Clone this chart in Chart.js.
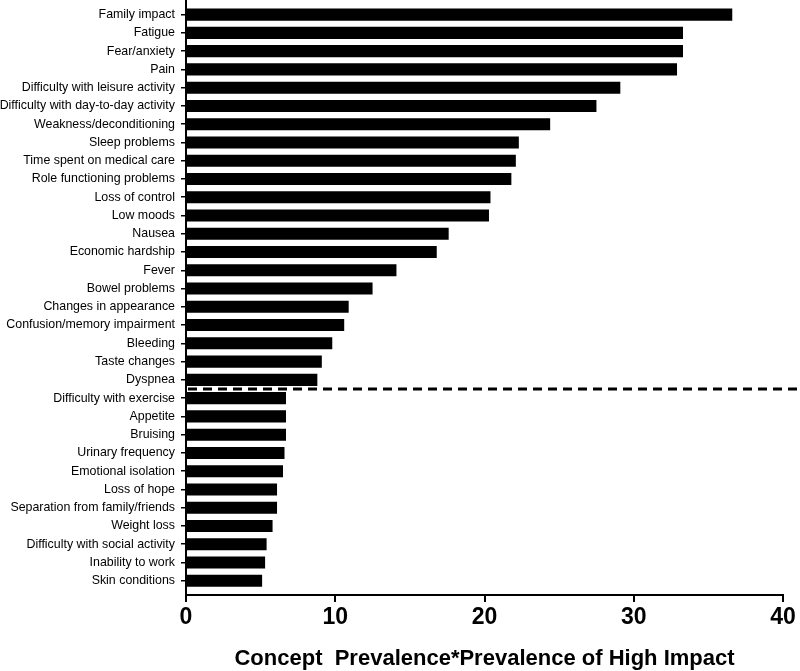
<!DOCTYPE html>
<html>
<head>
<meta charset="utf-8">
<script src="https://cdn.jsdelivr.net/npm/chart.js@4.4.1/dist/chart.umd.min.js"></script>
<style>
  html, body { margin: 0; padding: 0; background: #fff; }
  #wrap { width: 800px; height: 671px; }
</style>
</head>
<body>
<div id="wrap"><canvas id="impactChart"></canvas></div>
<script>
const categories = [
    'Family impact', 'Fatigue', 'Fear/anxiety', 'Pain',
    'Difficulty with leisure activity', 'Difficulty with day-to-day activity',
    'Weakness/deconditioning', 'Sleep problems', 'Time spent on medical care',
    'Role functioning problems', 'Loss of control', 'Low moods', 'Nausea',
    'Economic hardship', 'Fever', 'Bowel problems', 'Changes in appearance',
    'Confusion/memory impairment', 'Bleeding', 'Taste changes', 'Dyspnea',
    'Difficulty with exercise', 'Appetite', 'Bruising', 'Urinary frequency',
    'Emotional isolation', 'Loss of hope', 'Separation from family/friends',
    'Weight loss', 'Difficulty with social activity', 'Inability to work',
    'Skin conditions'
];
const values = [
    36.6, 33.3, 33.3, 32.9, 29.1, 27.5, 24.4, 22.3, 22.1, 21.8, 20.4, 20.3,
    17.6, 16.8, 14.1, 12.5, 10.9, 10.6, 9.8, 9.1, 8.8,
    6.7, 6.7, 6.7, 6.6, 6.5, 6.1, 6.1, 5.8, 5.4, 5.3, 5.1
];
const xTicks = [0, 10, 20, 30, 40];
const cutoffLabel = 'Dyspnea';   // dashed line drawn just below this one

const labelFont = "'Liberation Sans', Arial, sans-serif";

// dashed cut-off line across the plot
const cutoffLine = {
    id: 'cutoffLine',
    afterDatasetsDraw(chart) {
        const y = chart.scales.y.getPixelForValue(categories.indexOf(cutoffLabel) + 0.5);
        const ctx = chart.ctx;
        ctx.save();
        ctx.strokeStyle = '#000';
        ctx.lineWidth = 3;
        ctx.setLineDash([9, 6]);
        ctx.beginPath();
        ctx.moveTo(chart.chartArea.left + 2, y);
        ctx.lineTo(chart.width, y);
        ctx.stroke();
        ctx.restore();
    }
};

new Chart(document.getElementById('impactChart'), {
    type: 'bar',
    data: {
        datasets: [{
            data: values.map((v, i) => ({ x: v, y: i })),
            backgroundColor: '#000',
            borderWidth: 0,
            barPercentage: 0.66,
            categoryPercentage: 1
        }]
    },
    options: {
        indexAxis: 'y',
        responsive: true,
        maintainAspectRatio: false,
        animation: false,
        layout: { padding: { left: 0, right: 17, top: 0, bottom: 0 } },
        plugins: { legend: { display: false }, tooltip: { enabled: false } },
        scales: {
            y: {
                type: 'linear',
                reverse: true,
                offset: false,
                min: -0.8,
                max: 31.78,
                afterBuildTicks: (s) => { s.ticks = categories.map((_, i) => ({ value: i })); },
                afterFit: (s) => { s.width = 186; s.paddingTop = 0; s.paddingBottom = 0; },
                ticks: {
                    autoSkip: false,
                    padding: 6,
                    color: '#000',
                    font: { family: labelFont, size: 12.4 },
                    callback: (v) => categories[v]
                },
                grid: { offset: false, drawOnChartArea: false, tickLength: 5, color: '#000', lineWidth: 1.5 },
                border: { color: '#000', width: 2 }
            },
            x: {
                min: 0,
                max: 40,
                afterBuildTicks: (s) => { s.ticks = xTicks.map(v => ({ value: v })); },
                afterFit: (s) => { s.height = 76; },
                ticks: {
                    padding: 2,
                    color: '#000',
                    font: { family: labelFont, size: 23, weight: 'bold' }
                },
                grid: { drawOnChartArea: false, tickLength: 7, color: '#000', lineWidth: 2 },
                border: { color: '#000', width: 2 },
                title: {
                    display: true,
                    text: 'Concept  Prevalence*Prevalence of High Impact',
                    color: '#000',
                    padding: { top: 0, bottom: 0 },
                    font: { family: labelFont, size: 22, weight: 'bold', lineHeight: 1.1 }
                }
            }
        }
    },
    plugins: [cutoffLine]
});
</script>
</body>
</html>
